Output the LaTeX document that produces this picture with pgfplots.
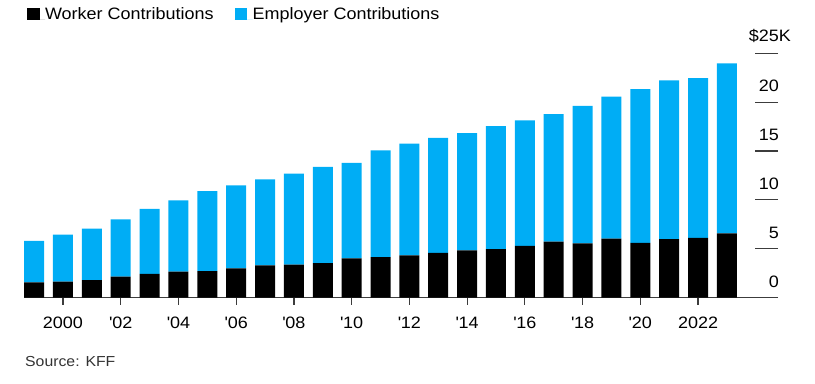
\documentclass[border=0pt]{standalone}
\usepackage{fontspec}
\setmainfont{Liberation Sans}[FakeStretch=1.09]
\usepackage{pgfplots}
\pgfplotsset{compat=1.18}
\usepackage{pgfplotstable}
\definecolor{empblue}{RGB}{0,173,245}
\definecolor{axgray}{RGB}{60,60,60}
\pgfplotstableread{
year worker employer
1999 1.543 4.247
2000 1.619 4.819
2001 1.787 5.270
2002 2.137 5.866
2003 2.412 6.657
2004 2.661 7.289
2005 2.713 8.167
2006 2.973 8.508
2007 3.281 8.824
2008 3.354 9.325
2009 3.515 9.860
2010 3.997 9.773
2011 4.129 10.944
2012 4.316 11.429
2013 4.565 11.786
2014 4.823 12.011
2015 4.955 12.591
2016 5.277 12.865
2017 5.714 13.049
2018 5.547 14.069
2019 6.015 14.561
2020 5.588 15.754
2021 5.969 16.253
2022 6.106 16.357
2023 6.575 17.393
}\data
\begin{document}
\begin{tikzpicture}[x=1bp,y=1bp]
\useasboundingbox (0,0) rectangle (815,383);
\begin{axis}[
  at={(24bp,85.5bp)}, anchor=south west,
  scale only axis, width=754bp, height=244.2bp,
  xmin=1998.65, xmax=2024.77, ymin=0, ymax=25,
  ybar stacked, bar width=20bp,
  axis x line*=bottom, axis y line*=right,
  y axis line style={draw=none},
  x axis line style={axgray, line width=1.3bp},
  tick align=outside,
  major tick length=7bp,
  minor tick length=23bp,
  xtick={2000,2002,...,2022},
  xticklabels={2000,\textquotesingle02,\textquotesingle04,\textquotesingle06,\textquotesingle08,\textquotesingle10,\textquotesingle12,\textquotesingle14,\textquotesingle16,\textquotesingle18,\textquotesingle20,2022},
  x tick style={axgray, line width=1.2bp},
  ytick={0,5,10,15,20,25},
  yticklabels={0,5,10,15,20,\llap{\$}25\rlap{K}},
  minor ytick={0,5,10,15,20,25},
  major y tick style={draw=none},
  minor y tick style={axgray, line width=1.2bp, xshift=-23bp},
  xticklabel style={anchor=north, inner sep=0pt, yshift=-12.2bp, font=\fontsize{16.5bp}{19bp}\selectfont},
  yticklabel style={anchor=south east, inner sep=0pt, xshift=-6bp, yshift=10bp, font=\fontsize{16.5bp}{19bp}\selectfont},
  legend columns=2,
  legend style={at={(0,1)}, anchor=west, xshift=3bp, yshift=38.8bp, draw=none, fill=none, inner sep=0pt, outer sep=0pt,
    font=\fontsize{16.5bp}{19bp}\selectfont,
    nodes={inner sep=0pt, anchor=base west},
    /tikz/every even column/.append style={column sep=21bp}},
  legend image code/.code={\fill[#1] (0bp,-0.5bp) rectangle (12.5bp,11.5bp); \path (0bp,0bp) -- (18bp,0bp);},
]
\addplot[fill=black, draw=none] table[x=year, y=worker] {\data};
\addplot[fill=empblue, draw=none] table[x=year, y=employer] {\data};
\legend{Worker Contributions, Employer Contributions}
\end{axis}
\node[anchor=base west, inner sep=0pt, font=\fontsize{14.5bp}{17bp}\selectfont, text=black!80] at (25bp,17bp) {Source: KFF};
\end{tikzpicture}
\end{document}
